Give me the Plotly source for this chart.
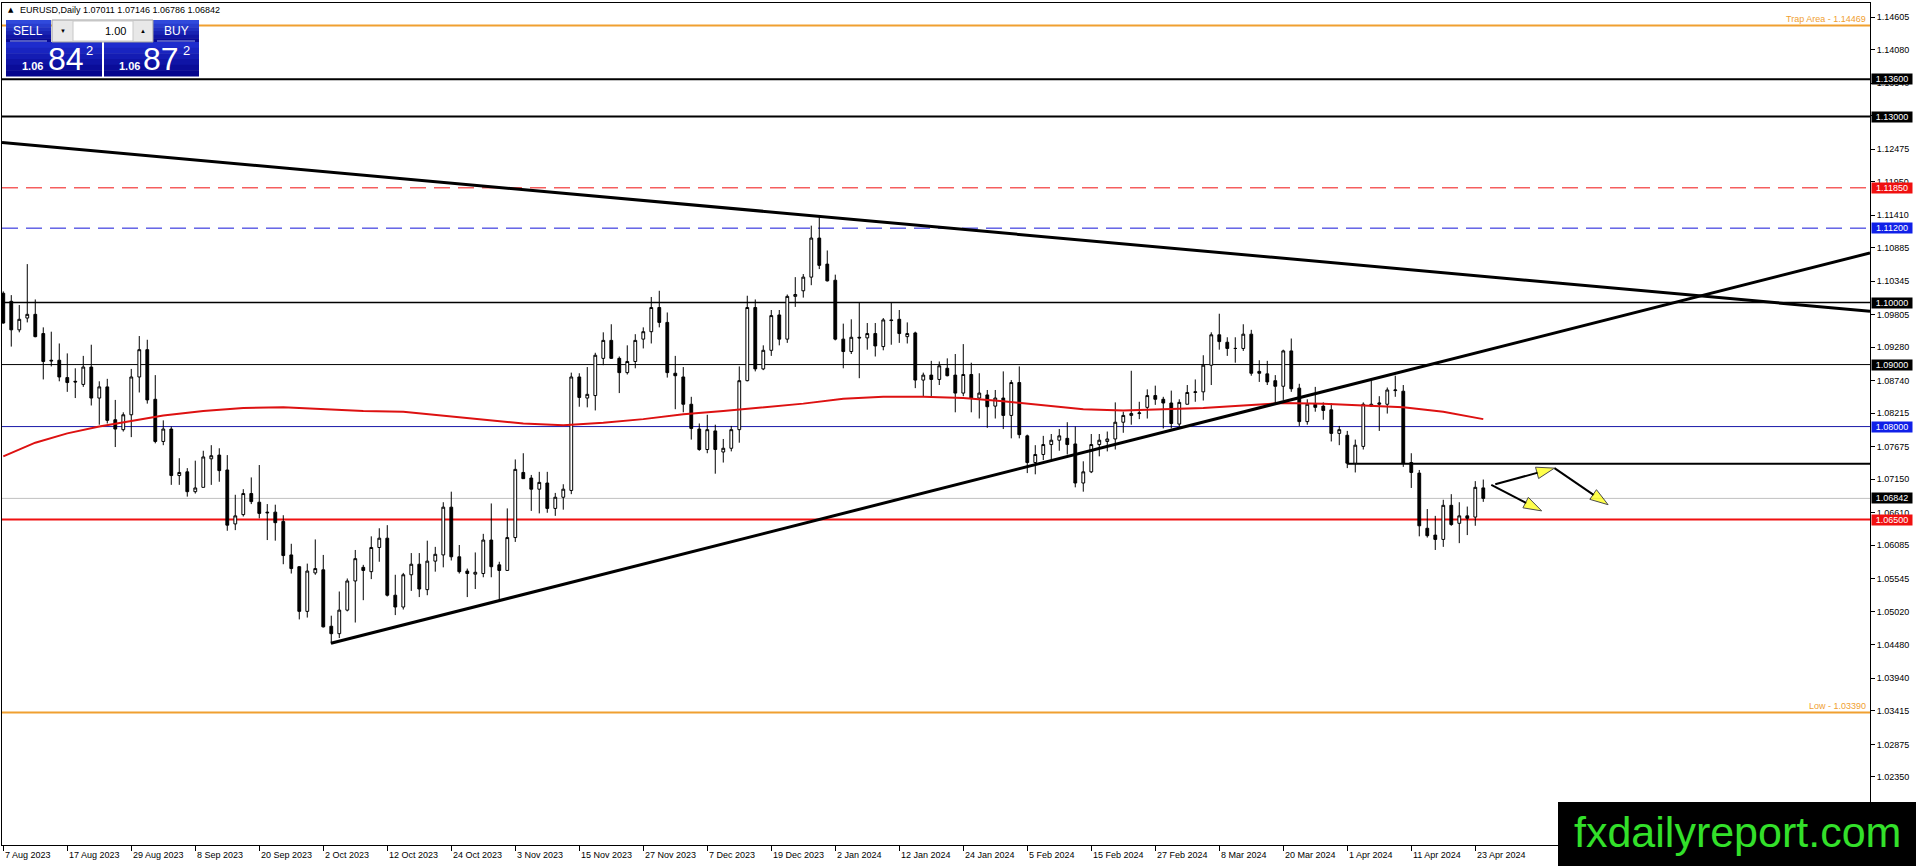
import plotly.graph_objects as go

# daily EURUSD candles, bar 0 = 7 Aug 2023 ... bar 185 = 24 Apr 2024
opens = [
    1.1015, 1.1002, 1.0956, 1.0975, 1.0981, 1.0950, 1.0907, 1.0907, 1.0879, 1.0873,
    1.0868, 1.0896, 1.0846, 1.0864, 1.0811, 1.0795, 1.0819, 1.0880, 1.0924, 1.0844,
    1.0776, 1.0796, 1.0721, 1.0727, 1.0695, 1.0702, 1.0748, 1.0754, 1.0730, 1.0643,
    1.0658, 1.0692, 1.0678, 1.0662, 1.0662, 1.0647, 1.0593, 1.0574, 1.0502, 1.0564,
    1.0569, 1.0478, 1.0466, 1.0504, 1.0551, 1.0573, 1.0566, 1.0605, 1.0620, 1.0528,
    1.0509, 1.0561, 1.0578, 1.0537, 1.0583, 1.0593, 1.0670, 1.0590, 1.0567, 1.0562,
    1.0563, 1.0617, 1.0577, 1.0568, 1.0621, 1.0726, 1.0717, 1.0699, 1.0709, 1.0668,
    1.0686, 1.0697, 1.0880, 1.0846, 1.0850, 1.0910, 1.0939, 1.0910, 1.0887, 1.0905,
    1.0941, 1.0953, 1.0992, 1.0968, 1.0886, 1.0880, 1.0836, 1.0796, 1.0763, 1.0793,
    1.0759, 1.0765, 1.0795, 1.0874, 1.0992, 1.0893, 1.0923, 1.0980, 1.0941, 1.1010,
    1.1019, 1.1041, 1.1104, 1.1062, 1.1036, 1.0941, 1.0921, 1.0944, 1.0943, 1.0950,
    1.0929, 1.0972, 1.0973, 1.0945, 1.0951, 1.0875, 1.0883, 1.0876, 1.0894, 1.0883,
    1.0854, 1.0884, 1.0846, 1.0851, 1.0833, 1.0846, 1.0818, 1.0871, 1.0785, 1.0742,
    1.0755, 1.0771, 1.0778, 1.0781, 1.0772, 1.0709, 1.0727, 1.0771, 1.0776, 1.0780,
    1.0807, 1.0818, 1.0821, 1.0831, 1.0850, 1.0844, 1.0838, 1.0804, 1.0836, 1.0855,
    1.0856, 1.0899, 1.0948, 1.0936, 1.0926, 1.0926, 1.0949, 1.0889, 1.0885, 1.0874,
    1.0865, 1.0922, 1.0862, 1.0808, 1.0836, 1.0833, 1.0827, 1.0789, 1.0786, 1.0741,
    1.0768, 1.0833, 1.0836, 1.0836, 1.0858, 1.0857, 1.0742, 1.0725, 1.0636, 1.0625,
    1.0618, 1.0673, 1.0644, 1.0656, 1.0654, 1.07011,
]
highs = [
    1.1018, 1.1012, 1.0996, 1.1062, 1.1005, 1.0960, 1.0953, 1.0934, 1.0918, 1.0894,
    1.0914, 1.0932, 1.0873, 1.0877, 1.0843, 1.0823, 1.0893, 1.0946, 1.0940, 1.0883,
    1.0810, 1.0800, 1.0749, 1.0733, 1.0745, 1.0761, 1.0770, 1.0765, 1.0754, 1.0690,
    1.0699, 1.0718, 1.0738, 1.0675, 1.0674, 1.0657, 1.0611, 1.0575, 1.0579, 1.0618,
    1.0593, 1.0495, 1.0534, 1.0555, 1.0601, 1.0577, 1.0623, 1.0636, 1.0641, 1.0561,
    1.0564, 1.0596, 1.0596, 1.0616, 1.0606, 1.0678, 1.0695, 1.0609, 1.0571, 1.0597,
    1.0627, 1.0676, 1.0582, 1.0668, 1.0747, 1.0757, 1.0722, 1.0727, 1.0727, 1.0693,
    1.0707, 1.0887, 1.0886, 1.0896, 1.0919, 1.0952, 1.0965, 1.0913, 1.0931, 1.0949,
    1.0960, 1.1009, 1.1019, 1.0984, 1.0914, 1.0896, 1.0848, 1.0805, 1.0819, 1.0803,
    1.0780, 1.0801, 1.0897, 1.1011, 1.1005, 1.0931, 1.0988, 1.0988, 1.1013, 1.1041,
    1.1046, 1.1124, 1.1139, 1.1084, 1.1045, 1.0966, 1.0973, 1.1000, 1.0967, 1.0967,
    1.0975, 1.1000, 1.0988, 1.0968, 1.0953, 1.0887, 1.0906, 1.0905, 1.0910, 1.0917,
    1.0933, 1.0903, 1.0886, 1.0859, 1.0859, 1.0889, 1.0875, 1.0897, 1.0787, 1.0770,
    1.0785, 1.0788, 1.0796, 1.0807, 1.0800, 1.0744, 1.0788, 1.0788, 1.0792, 1.0839,
    1.0824, 1.0890, 1.0840, 1.0860, 1.0866, 1.0848, 1.0858, 1.0844, 1.0867, 1.0876,
    1.0915, 1.0952, 1.0982, 1.0944, 1.0944, 1.0965, 1.0956, 1.0907, 1.0906, 1.0883,
    1.0924, 1.0942, 1.0869, 1.0844, 1.0864, 1.0839, 1.0838, 1.0801, 1.0793, 1.0779,
    1.0839, 1.0874, 1.0849, 1.0863, 1.0882, 1.0867, 1.0757, 1.0730, 1.0667, 1.0656,
    1.0682, 1.0691, 1.0678, 1.0671, 1.0712, 1.07146,
]
lows = [
    1.0966, 1.0929, 1.0952, 1.0968, 1.0944, 1.0876, 1.0897, 1.0873, 1.0856, 1.0846,
    1.0864, 1.0834, 1.0803, 1.0805, 1.0767, 1.0792, 1.0783, 1.0855, 1.0837, 1.0773,
    1.0770, 1.0706, 1.0706, 1.0687, 1.0692, 1.0702, 1.0706, 1.0711, 1.0632, 1.0633,
    1.0655, 1.0675, 1.0652, 1.0617, 1.0616, 1.0578, 1.0563, 1.0489, 1.0492, 1.0561,
    1.0476, 1.0450, 1.0459, 1.0502, 1.0484, 1.0520, 1.0554, 1.0582, 1.0526, 1.0496,
    1.0505, 1.0535, 1.0525, 1.0528, 1.0566, 1.0573, 1.0584, 1.0563, 1.0525, 1.0538,
    1.0557, 1.0557, 1.0520, 1.0568, 1.0614, 1.0716, 1.0664, 1.0660, 1.0661, 1.0656,
    1.0666, 1.0691, 1.0832, 1.0831, 1.0826, 1.0899, 1.0909, 1.0854, 1.0884, 1.0894,
    1.0926, 1.0934, 1.0960, 1.0879, 1.0828, 1.0823, 1.0779, 1.0761, 1.0757, 1.0724,
    1.0742, 1.0760, 1.0774, 1.0873, 1.0889, 1.0891, 1.0914, 1.0931, 1.0935, 1.0993,
    1.1008, 1.1028, 1.1054, 1.1034, 1.0939, 1.0894, 1.0917, 1.0878, 1.0924, 1.0913,
    1.0923, 1.0932, 1.0935, 1.0934, 1.0862, 1.0848, 1.0849, 1.0867, 1.0881, 1.0823,
    1.0849, 1.0823, 1.0813, 1.0798, 1.0813, 1.0796, 1.0781, 1.0781, 1.0725, 1.0723,
    1.0746, 1.0746, 1.0761, 1.0755, 1.0702, 1.0695, 1.0725, 1.0752, 1.0760, 1.0763,
    1.0790, 1.0803, 1.0812, 1.0813, 1.0835, 1.0797, 1.0797, 1.0800, 1.0836, 1.0840,
    1.0842, 1.0867, 1.0924, 1.0914, 1.0903, 1.0922, 1.0882, 1.0872, 1.0867, 1.0838,
    1.0843, 1.0856, 1.0801, 1.0803, 1.0824, 1.0811, 1.0776, 1.0770, 1.0733, 1.0726,
    1.0763, 1.0832, 1.0793, 1.0821, 1.0848, 1.0735, 1.0701, 1.0623, 1.0621, 1.0601,
    1.0606, 1.0640, 1.0612, 1.0625, 1.0640, 1.06786,
]
closes = [
    1.0967, 1.0956, 1.0973, 1.0981, 1.0945, 1.0905, 1.0906, 1.0880, 1.0871, 1.0872,
    1.0896, 1.0846, 1.0864, 1.0810, 1.0796, 1.0819, 1.0880, 1.0924, 1.0843, 1.0776,
    1.0796, 1.0721, 1.0726, 1.0695, 1.0701, 1.0751, 1.0753, 1.0729, 1.0641, 1.0656,
    1.0692, 1.0679, 1.0660, 1.0661, 1.0645, 1.0592, 1.0571, 1.0502, 1.0567, 1.0571,
    1.0477, 1.0466, 1.0504, 1.0551, 1.0587, 1.0568, 1.0605, 1.0620, 1.0528, 1.0509,
    1.0561, 1.0578, 1.0538, 1.0583, 1.0594, 1.0670, 1.0590, 1.0566, 1.0563, 1.0565,
    1.0617, 1.0574, 1.0568, 1.0621, 1.0731, 1.0716, 1.0699, 1.0710, 1.0668, 1.0686,
    1.0699, 1.0880, 1.0847, 1.0852, 1.0915, 1.0939, 1.0910, 1.0887, 1.0905, 1.0939,
    1.0953, 1.0992, 1.0968, 1.0887, 1.0882, 1.0836, 1.0797, 1.0763, 1.0795, 1.0763,
    1.0765, 1.0795, 1.0874, 1.0992, 1.0893, 1.0923, 1.0979, 1.0941, 1.1010, 1.1013,
    1.1041, 1.1104, 1.1060, 1.1035, 1.0941, 1.0921, 1.0944, 1.0943, 1.0950, 1.0930,
    1.0972, 1.0971, 1.0950, 1.0950, 1.0875, 1.0883, 1.0876, 1.0898, 1.0882, 1.0854,
    1.0884, 1.0846, 1.0854, 1.0832, 1.0846, 1.0818, 1.0871, 1.0787, 1.0742, 1.0755,
    1.0771, 1.0778, 1.0785, 1.0771, 1.0709, 1.0727, 1.0771, 1.0778, 1.0780, 1.0807,
    1.0818, 1.0821, 1.0822, 1.0850, 1.0844, 1.0838, 1.0805, 1.0839, 1.0855, 1.0856,
    1.0899, 1.0948, 1.0937, 1.0926, 1.0926, 1.0949, 1.0886, 1.0886, 1.0872, 1.0865,
    1.0922, 1.0861, 1.0808, 1.0836, 1.0831, 1.0826, 1.0789, 1.0795, 1.0741, 1.0770,
    1.0836, 1.0836, 1.0838, 1.0859, 1.0859, 1.0741, 1.0726, 1.0640, 1.0624, 1.0618,
    1.0673, 1.0642, 1.0656, 1.0652, 1.0702, 1.06842,
]

# moving average at a few bars
ma_bars = [0, 4, 8, 12, 16, 20, 25, 30, 35, 40, 45, 50, 55, 60, 65, 70, 75, 80, 85, 90,
           95, 100, 105, 110, 115, 120, 125, 130, 135, 140, 145, 150, 155, 160, 165, 170,
           175, 180, 185]
ma_values = [1.0752, 1.0774, 1.0789, 1.0800, 1.0809, 1.0818, 1.0825, 1.0830, 1.0831, 1.0828,
             1.0825, 1.0824, 1.0818, 1.0812, 1.0805, 1.0802, 1.0806, 1.0812, 1.0820, 1.0825,
             1.0831, 1.0837, 1.0845, 1.0848, 1.0848, 1.0846, 1.0841, 1.0834, 1.0828, 1.0826,
             1.0828, 1.0830, 1.0834, 1.0838, 1.0837, 1.0834, 1.0831, 1.0824, 1.0812]

tick_bars = list(range(0, 185, 8))
tick_labels = ["7 Aug 2023", "17 Aug 2023", "29 Aug 2023", "8 Sep 2023", "20 Sep 2023",
               "2 Oct 2023", "12 Oct 2023", "24 Oct 2023", "3 Nov 2023", "15 Nov 2023",
               "27 Nov 2023", "7 Dec 2023", "19 Dec 2023", "2 Jan 2024", "12 Jan 2024",
               "24 Jan 2024", "5 Feb 2024", "15 Feb 2024", "27 Feb 2024", "8 Mar 2024",
               "20 Mar 2024", "1 Apr 2024", "11 Apr 2024", "23 Apr 2024"]

price_ticks = [1.14605, 1.14080, 1.13540, 1.13015, 1.12475, 1.11950, 1.11410, 1.10885,
               1.10345, 1.09805, 1.09280, 1.08740, 1.08215, 1.07675, 1.07150, 1.06610,
               1.06085, 1.05545, 1.05020, 1.04480, 1.03940, 1.03415, 1.02875, 1.02350]

# horizontal levels
level_prices = [1.14469, 1.13600, 1.13000, 1.11850, 1.11200, 1.10000, 1.09000, 1.08000,
                1.06842, 1.06500, 1.03390]
level_names = ["trap", "r3", "r2", "r1", "r0", "p110", "p109", "p108", "bid", "s1", "low"]
support_bar = 168
support_price = 1.0740

# trend lines (bar, price)
down_line_bars = [-0.16, 233.34]
down_line_prices = [1.1258, 1.0986]
up_line_bars = [40.96, 233.34]
up_line_prices = [1.04505, 1.1080]

# projection arrows
arrow_from_bars = [186.5, 193.9, 186.0]
arrow_from_prices = [1.0707, 1.0733, 1.0706]
arrow_to_bars = [193.9, 200.6, 192.3]
arrow_to_prices = [1.0733, 1.0674, 1.0664]

header = "EURUSD,Daily 1.07011 1.07146 1.06786 1.06842"

W, H = 1916, 866
L, R, T, B = 2, 46, 3, 21
PW, PH = W - L - R, H - T - B
FONT = "Liberation Sans, Arial, sans-serif"


def px(x):
    return (x - L) / PW


def py(y):
    return 1 - (y - T) / PH


level_style = {
    "trap": dict(color="#f0a030", width=2, dash="solid", box=None),
    "r3": dict(color="black", width=2, dash="solid", box="black"),
    "r2": dict(color="black", width=2, dash="solid", box="black"),
    "r1": dict(color="#f01010", width=1, dash="16px,8px", box="#f01010"),
    "r0": dict(color="#1515d8", width=1, dash="16px,8px", box="#1020e8"),
    "p110": dict(color="black", width=1.6, dash="solid", box="black"),
    "p109": dict(color="black", width=1, dash="solid", box="black"),
    "p108": dict(color="#1a1aa8", width=1, dash="solid", box="#1020e8"),
    "bid": dict(color="#c0c0c0", width=1, dash="solid", box="black"),
    "s1": dict(color="#f01010", width=2, dash="solid", box="#f01010"),
    "low": dict(color="#f0a030", width=2, dash="solid", box=None),
}

bars = list(range(len(closes)))
fig = go.Figure()

fig.add_trace(go.Candlestick(
    x=bars, open=opens, high=highs, low=lows, close=closes,
    increasing=dict(line=dict(color="black", width=1), fillcolor="white"),
    decreasing=dict(line=dict(color="black", width=1), fillcolor="black"),
    whiskerwidth=0, showlegend=False, hoverinfo="skip",
))

fig.add_trace(go.Scatter(x=ma_bars, y=ma_values, mode="lines",
                         line=dict(color="#dd1111", width=2), hoverinfo="skip"))

for xs, ys in [(down_line_bars, down_line_prices), (up_line_bars, up_line_prices)]:
    fig.add_trace(go.Scatter(x=xs, y=ys, mode="lines",
                             line=dict(color="black", width=3), hoverinfo="skip"))

for i in range(len(arrow_from_bars)):
    fig.add_trace(go.Scatter(
        x=[arrow_from_bars[i], arrow_to_bars[i]],
        y=[arrow_from_prices[i], arrow_to_prices[i]],
        mode="lines+markers",
        line=dict(color="black", width=2),
        marker=dict(symbol="arrow", size=[0, 19], angleref="previous", color="#ffff00",
                    line=dict(color="black", width=1)),
        hoverinfo="skip",
    ))

shapes = []
annotations = []

for name, price in zip(level_names, level_prices):
    st = level_style[name]
    shapes.append(dict(type="line", xref="paper", yref="y", x0=0, x1=1, y0=price, y1=price,
                       line=dict(color=st["color"], width=st["width"], dash=st["dash"]),
                       layer="below"))
    if st["box"]:
        annotations.append(dict(xref="paper", yref="y", x=1, y=price, xanchor="left",
                                yanchor="middle", xshift=1, text=f"{price:.5f}",
                                showarrow=False, bgcolor=st["box"], width=40, height=10,
                                borderpad=0, font=dict(color="white", size=9, family=FONT)))

shapes.append(dict(type="line", xref="x", yref="y", x0=support_bar, x1=233.34,
                   y0=support_price, y1=support_price,
                   line=dict(color="black", width=2), layer="below"))

annotations.append(dict(xref="paper", yref="y", x=1, y=level_prices[0], xanchor="right",
                        yanchor="bottom", xshift=-2, yshift=-1,
                        text=f"Trap Area - {level_prices[0]:.5f}", showarrow=False,
                        font=dict(color="#f0a030", size=9, family=FONT)))
annotations.append(dict(xref="paper", yref="y", x=1, y=level_prices[-1], xanchor="right",
                        yanchor="bottom", xshift=-2, yshift=-1,
                        text=f"Low - {level_prices[-1]:.5f}", showarrow=False,
                        font=dict(color="#f0a030", size=9, family=FONT)))

# date labels, left aligned at each tick like the terminal does
for b, lab in zip(tick_bars, tick_labels):
    annotations.append(dict(xref="x", yref="paper", x=b, y=py(855), xanchor="left",
                            yanchor="middle", xshift=0, text=lab, showarrow=False,
                            font=dict(size=9, family=FONT, color="black")))

# header line
annotations.append(dict(xref="paper", yref="paper", x=px(6), y=py(10), xanchor="left",
                        yanchor="middle", text="▲", showarrow=False,
                        font=dict(size=7, family="DejaVu Sans", color="black")))
annotations.append(dict(xref="paper", yref="paper", x=px(18), y=py(10), xanchor="left",
                        yanchor="middle", text=header, showarrow=False,
                        font=dict(size=9, family=FONT, color="black")))


# one click trading panel
def blue_box(x0, y0, x1, y1, top=(48, 74, 220), bottom=(8, 10, 150), steps=6):
    h = (y1 - y0) / steps
    for k in range(steps):
        t = k / (steps - 1)
        c = tuple(int(top[j] + (bottom[j] - top[j]) * t) for j in range(3))
        shapes.append(dict(type="rect", xref="paper", yref="paper",
                           x0=px(x0), x1=px(x1), y0=py(y0 + k * h), y1=py(y0 + (k + 1) * h + 0.5),
                           fillcolor="rgb(%d,%d,%d)" % c, line=dict(width=0), layer="above"))


blue_box(6, 20, 51, 42)
blue_box(6, 42, 102, 76, top=(30, 44, 205), bottom=(5, 5, 140))
blue_box(153, 20, 199, 42)
blue_box(104, 42, 199, 76, top=(30, 44, 205), bottom=(5, 5, 140))

shapes.append(dict(type="rect", xref="paper", yref="paper", x0=px(52), x1=px(153),
                   y0=py(20), y1=py(42), fillcolor="#e8e8e8",
                   line=dict(color="#a0a0a0", width=1), layer="above"))
shapes.append(dict(type="rect", xref="paper", yref="paper", x0=px(73), x1=px(133),
                   y0=py(21), y1=py(41), fillcolor="white",
                   line=dict(color="#c8c8c8", width=1), layer="above"))
for x0, x1 in [(10, 47), (157, 195)]:
    shapes.append(dict(type="line", xref="paper", yref="paper", x0=px(x0), x1=px(x1),
                       y0=py(41), y1=py(41), line=dict(color="#9aa8f0", width=1),
                       layer="above"))

panel_texts = [
    ("SELL", 28, 31, 12, "white", "center"),
    ("BUY", 176, 31, 12, "white", "center"),
    ("<b>1.06</b>", 32, 66, 11, "white", "center"),
    ("84", 66, 59, 32, "white", "center"),
    ("2", 89, 51, 13, "white", "center"),
    ("<b>1.06</b>", 129, 66, 11, "white", "center"),
    ("87", 161, 59, 32, "white", "center"),
    ("2", 186, 51, 13, "white", "center"),
    ("1.00", 128, 31, 11, "black", "right"),
    ("▼", 63, 31, 6, "black", "center"),
    ("▲", 143, 31, 6, "black", "center"),
]
for txt, x, y, size, col, anchor in panel_texts:
    annotations.append(dict(xref="paper", yref="paper", x=px(x), y=py(y), xanchor=anchor,
                            yanchor="middle", text=txt, showarrow=False,
                            font=dict(size=size, color=col, family=FONT)))

# site logo bottom right
shapes.append(dict(type="rect", xref="paper", yref="paper", x0=px(1558), x1=px(1918),
                   y0=py(802), y1=py(868), fillcolor="black", line=dict(width=0),
                   layer="above"))
annotations.append(dict(xref="paper", yref="paper", x=px(1737), y=py(832), xanchor="center",
                        yanchor="middle", text="fxdailyreport.com", showarrow=False,
                        font=dict(size=43, color="#33e02a", family=FONT)))

fig.update_layout(
    template="none",
    width=W, height=H,
    margin=dict(l=L, r=R, t=T, b=B, pad=0),
    paper_bgcolor="white", plot_bgcolor="white",
    showlegend=False, boxgap=0.5,
    font=dict(family=FONT, size=9, color="black"),
    shapes=shapes, annotations=annotations,
    xaxis=dict(range=[-0.16, 233.34], showgrid=False, zeroline=False, showline=True,
               linecolor="black", linewidth=1, mirror=True, ticks="outside", ticklen=5,
               tickcolor="black", tickvals=tick_bars, showticklabels=False,
               rangeslider=dict(visible=False), automargin=False),
    yaxis=dict(range=[1.01252, 1.14831], side="right", showgrid=False, zeroline=False,
               showline=True, linecolor="black", linewidth=1, mirror=True, ticks="outside",
               ticklen=4, tickcolor="black", tickvals=price_ticks,
               ticktext=[f"{v:.5f}" for v in price_ticks], automargin=False,
               tickfont=dict(size=9, family=FONT)),
)

fig.write_html("out.html", config={"displayModeBar": False},
               post_script="document.body.style.margin='0';")
